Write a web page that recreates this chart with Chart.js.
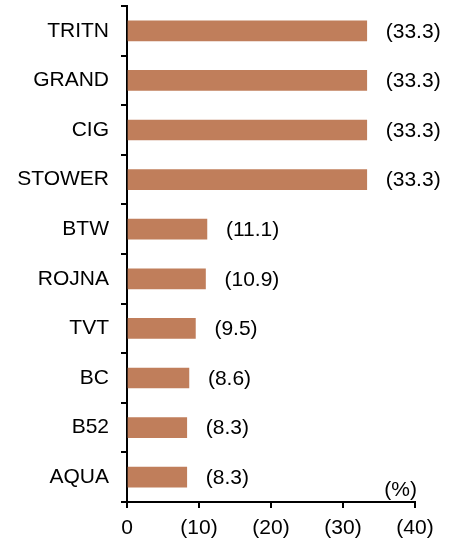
<!DOCTYPE html>
<html>
<head>
<meta charset="utf-8">
<script src="https://cdn.jsdelivr.net/npm/chart.js@4.4.0/dist/chart.umd.min.js"></script>
<style>
    html, body { margin: 0; padding: 0; background: #fff; }
    #wrap { width: 452px; height: 541px; position: relative; }
</style>
</head>
<body>
<div id="wrap"><canvas id="barChart"></canvas></div>
<script>
// Veriler
const categories = ['TRITN', 'GRAND', 'CIG', 'STOWER', 'BTW', 'ROJNA', 'TVT', 'BC', 'B52', 'AQUA'];
const values = [33.3, 33.3, 33.3, 33.3, 11.1, 10.9, 9.5, 8.6, 8.3, 8.3];
const xTicks = [0, 10, 20, 30, 40];
const unitLabel = '(%)';

const FONT = 'Arial, "Liberation Sans", sans-serif';

// Bar sonuna değer etiketleri + birim etiketi
const labelPlugin = {
    id: 'valueLabels',
    afterDatasetsDraw(chart) {
        const ctx = chart.ctx;
        const meta = chart.getDatasetMeta(0);
        ctx.save();
        ctx.font = '21px ' + FONT;
        ctx.fillStyle = '#000';
        ctx.textAlign = 'left';
        ctx.textBaseline = 'middle';
        meta.data.forEach((bar, i) => {
            ctx.fillText('(' + values[i].toFixed(1) + ')', bar.x + 19, bar.y + 1);
        });
        const area = chart.chartArea;
        ctx.textAlign = 'right';
        ctx.fillText(unitLabel, area.right + 2, area.bottom - 12);
        ctx.restore();
    }
};

const ctx = document.getElementById('barChart').getContext('2d');
new Chart(ctx, {
    type: 'bar',
    data: {
        labels: categories,
        datasets: [{
            data: values,
            backgroundColor: '#C07E5B',
            borderWidth: 0,
            barThickness: 20
        }]
    },
    options: {
        indexAxis: 'y',
        responsive: true,
        maintainAspectRatio: false,
        animation: false,
        layout: {
            padding: { top: 6, right: 37, left: 0, bottom: 0 }
        },
        scales: {
            x: {
                type: 'linear',
                min: 0,
                max: 40,
                afterFit: (scale) => { scale.height = 39; },
                afterBuildTicks: (scale) => {
                    scale.ticks = xTicks.map(v => ({ value: v }));
                },
                grid: {
                    drawOnChartArea: false,
                    drawTicks: true,
                    tickLength: 6,
                    color: '#000',
                    lineWidth: 2
                },
                border: { display: true, color: '#000', width: 2 },
                ticks: {
                    color: '#000',
                    padding: 8,
                    maxRotation: 0,
                    font: { size: 21, family: FONT },
                    callback: function(value) {
                        return value === 0 ? '0' : '(' + value + ')';
                    }
                }
            },
            y: {
                afterFit: (scale) => {
                    scale.width = 127;
                    scale.paddingTop = 0;
                    scale.paddingBottom = 0;
                },
                grid: {
                    offset: true,
                    drawOnChartArea: false,
                    drawTicks: true,
                    tickLength: 6,
                    color: '#000',
                    lineWidth: 2
                },
                border: { display: true, color: '#000', width: 2 },
                ticks: {
                    color: '#000',
                    padding: 12,
                    font: { size: 21, family: FONT }
                }
            }
        },
        plugins: {
            legend: { display: false },
            tooltip: { enabled: false }
        }
    },
    plugins: [labelPlugin]
});
</script>
</body>
</html>
